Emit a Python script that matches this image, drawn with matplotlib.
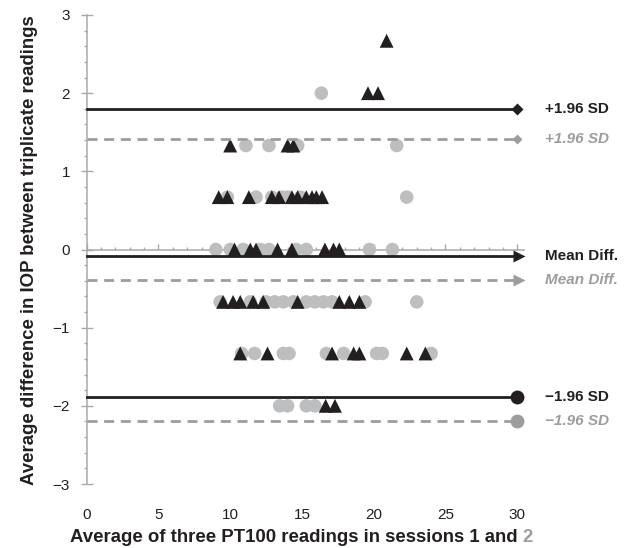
import matplotlib
matplotlib.use("Agg")
import matplotlib.pyplot as plt
from matplotlib.ticker import MultipleLocator

plt.rcParams['font.family'] = ['Liberation Sans', 'DejaVu Sans']

# ---- data ----
# Session comparison A (black triangles)
tri_x = [20.9,
         19.6, 20.3,
         10.0, 14.0, 14.4,
         9.2, 9.8, 11.3, 12.9, 13.4, 14.3, 14.7, 15.3, 15.7, 16.0, 16.4,
         10.3, 11.4, 11.8, 13.3, 14.3, 16.6, 17.2, 17.6,
         9.5, 10.2, 10.7, 11.6, 12.3, 14.7, 17.6, 18.3, 19.0,
         10.7, 12.6, 17.1, 18.6, 19.0, 22.3, 23.6,
         16.65, 17.3]
tri_y = [2.67,
         2.0, 2.0,
         1.33, 1.33, 1.33,
         0.67, 0.67, 0.67, 0.67, 0.67, 0.67, 0.67, 0.67, 0.67, 0.67, 0.67,
         0, 0, 0, 0, 0, 0, 0, 0,
         -0.67, -0.67, -0.67, -0.67, -0.67, -0.67, -0.67, -0.67, -0.67,
         -1.33, -1.33, -1.33, -1.33, -1.33, -1.33, -1.33,
         -2.0, -2.0]

# Session comparison B (grey circles)
circ_x = [16.35,
          11.1, 12.7, 14.7, 21.6,
          9.8, 11.8, 12.9, 13.6, 14.0, 14.9, 22.3,
          9.0, 10.0, 10.9, 12.1, 12.7, 14.6, 15.3, 19.7, 21.3,
          9.3, 11.4, 12.5, 13.1, 13.7, 14.4, 15.3, 15.9, 16.5, 17.1, 19.4, 23.0,
          10.8, 11.7, 13.7, 14.1, 16.7, 17.9, 20.2, 20.6, 24.0,
          13.45, 14.0, 15.3, 15.9]
circ_y = [2.0,
          1.33, 1.33, 1.33, 1.33,
          0.67, 0.67, 0.67, 0.67, 0.67, 0.67, 0.67,
          0, 0, 0, 0, 0, 0, 0, 0, 0,
          -0.67, -0.67, -0.67, -0.67, -0.67, -0.67, -0.67, -0.67, -0.67, -0.67, -0.67, -0.67,
          -1.33, -1.33, -1.33, -1.33, -1.33, -1.33, -1.33, -1.33, -1.33,
          -2.0, -2.0, -2.0, -2.0]

# Limits of agreement
black_limits = {'upper': 1.80, 'mean': -0.08, 'lower': -1.89}
grey_limits = {'upper': 1.41, 'mean': -0.39, 'lower': -2.20}
limit_labels = {'upper': '+1.96 SD', 'mean': 'Mean Diff.', 'lower': '\u22121.96 SD'}
line_end = 30

x_ticks = [0, 5, 10, 15, 20, 25, 30]
y_ticks = [-3, -2, -1, 0, 1, 2, 3]

BLACK = '#231f20'
GREY_PT = '#bcbec0'
GREY_LN = '#9d9d9d'
AXIS = '#a7a9ac'

fig = plt.figure(figsize=(6.35, 5.48), dpi=100)
ax = fig.add_axes([86.7 / 635, (548 - 484) / 548, (524.4 - 86.7) / 635, (484 - 15) / 548])
ax.set_xlim(0, 30.5)
ax.set_ylim(-3, 3)

for s in ['top', 'right']:
    ax.spines[s].set_visible(False)
ax.spines['left'].set_color(AXIS)
ax.spines['left'].set_linewidth(1.1)
ax.spines['bottom'].set_position(('data', 0))
ax.spines['bottom'].set_color(AXIS)
ax.spines['bottom'].set_linewidth(1.1)

ax.set_xticks(x_ticks)
ax.xaxis.set_minor_locator(MultipleLocator(1))
ax.tick_params(axis='x', which='major', direction='in', length=4.5, width=1.0,
               color=AXIS, labelbottom=False)
ax.tick_params(axis='x', which='minor', direction='in', length=2.5, width=1.0, color=AXIS)

ax.set_yticks(y_ticks)
ax.set_yticklabels([str(v).replace('-', '\u2212') for v in y_ticks])
ax.yaxis.set_minor_locator(MultipleLocator(0.2))
ax.tick_params(axis='y', which='major', direction='inout', length=9, width=1.0,
               color=AXIS, pad=7.5, labelsize=11, labelcolor=BLACK)
ax.tick_params(axis='y', which='minor', direction='out', length=2, width=1.0, color=AXIS)

sec = ax.secondary_xaxis('bottom')
sec.set_xticks(x_ticks)
sec.tick_params(length=0, pad=17.5, labelsize=11, labelcolor=BLACK)
sec.spines['bottom'].set_visible(False)

# points
ax.scatter(circ_x, circ_y, s=95, marker='o', color=GREY_PT, edgecolors='none', zorder=3)
ax.scatter(tri_x, tri_y, s=100, marker='^', color=BLACK, edgecolors='none', zorder=3.5)

# limit lines
end_marker = {'upper': ('D', 6.5), 'mean': ('>', 9), 'lower': ('o', 10)}
grey_marker = {'upper': ('D', 5.5), 'mean': ('>', 8), 'lower': ('o', 10)}
for key in ['upper', 'mean', 'lower']:
    yv = black_limits[key]
    ax.plot([0, line_end], [yv, yv], color=BLACK, lw=2.0, zorder=4, clip_on=False)
    m, ms = end_marker[key]
    ax.plot([line_end + (0.1 if key == 'mean' else 0)], [yv], marker=m, ms=ms,
            color=BLACK, mec='none', zorder=5, clip_on=False)
    ax.annotate(limit_labels[key], xy=(line_end, yv), xytext=(20, 0),
                textcoords='offset points', va='center', ha='left',
                fontsize=11, fontweight='bold', color=BLACK)

    yv = grey_limits[key]
    ax.plot([0, line_end], [yv, yv], color=GREY_LN, lw=2.0, ls=(0, (3.6, 2.4)),
            zorder=4, clip_on=False)
    m, ms = grey_marker[key]
    ax.plot([line_end + (0.1 if key == 'mean' else 0)], [yv], marker=m, ms=ms,
            color=GREY_LN, mec='none', zorder=5, clip_on=False)
    ax.annotate(limit_labels[key], xy=(line_end, yv), xytext=(20, 0),
                textcoords='offset points', va='center', ha='left',
                fontsize=11, fontweight='bold', fontstyle='italic', color=GREY_LN)

# axis labels
LABEL_FS = 13.4
fig.text(30 / 635, 1 - 250 / 548, 'Average difference in IOP between triplicate readings',
         rotation=90, ha='center', va='center', fontsize=LABEL_FS, fontweight='bold', color=BLACK)
t1 = fig.text(70 / 635, 1 - 537.5 / 548, 'Average of three PT100 readings in sessions 1 and',
              ha='left', va='center', fontsize=LABEL_FS, fontweight='bold', color=BLACK)
ax.annotate('2', xy=(1, 0), xycoords=t1, xytext=(3.7, 0), textcoords='offset points',
            ha='left', va='bottom', fontsize=LABEL_FS, fontweight='bold', color=GREY_LN,
            annotation_clip=False)

fig.savefig('out.png', dpi=100)
